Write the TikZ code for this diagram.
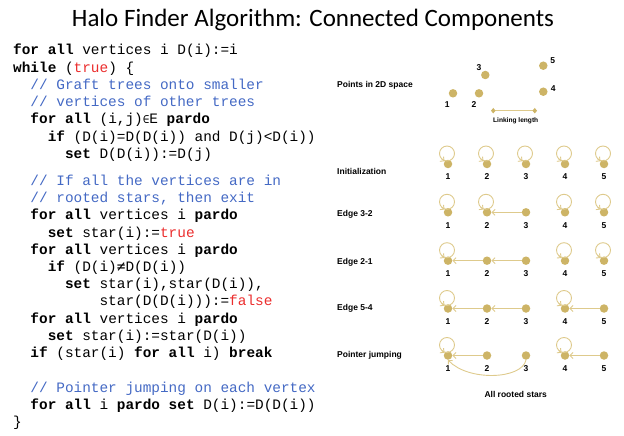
\documentclass[tikz,border=0pt]{standalone}
\usepackage{fontspec}
\setmainfont{Liberation Sans}
\setmonofont{Liberation Mono}
\newfontfamily\titlefont{Carlito}
\newfontfamily\symfont{DejaVu Sans Mono}
\usetikzlibrary{arrows.meta,calc}
\definecolor{cmtblue}{RGB}{68,105,196}
\definecolor{codered}{RGB}{235,45,45}
\definecolor{gold}{RGB}{205,180,102}
\definecolor{goldline}{RGB}{222,202,140}
\newcommand\kw[1]{\textbf{#1}}
\newcommand\cmt[1]{\textcolor{cmtblue}{#1}}
\newcommand\rd[1]{\textcolor{codered}{#1}}
\tikzset{
  codeline/.style={anchor=base west, inner sep=0pt, font=\ttfamily\fontsize{14.4}{17}\selectfont},
  rowlabel/.style={anchor=west, inner sep=0pt, font=\bfseries\fontsize{8.5}{10}\selectfont},
  numlabel/.style={inner sep=0pt, font=\bfseries\fontsize{8.5}{10}\selectfont},
  dot/.style={circle, fill=gold, inner sep=0pt, minimum size=8.5pt},
  lnk/.style={draw=goldline, line width=0.9pt},
  arr/.style={lnk, -{Straight Barb[length=3pt,width=6pt]}},
  dia/.style={lnk, {Diamond[length=4.5pt,width=5.5pt,color=gold,fill=gold]}-{Diamond[length=4.5pt,width=5.5pt,color=gold,fill=gold]}},
}
\newcommand\selfloop[1]{%
  \draw[lnk] ([shift={(-1,-10.5)}]#1.center) circle[radius=7.5];
  \draw[arr] ([shift={(-6.3,-5)}]#1.center) -- (#1);}
\begin{document}
\begin{tikzpicture}[x=1pt,y=-1pt]
\useasboundingbox (0,0) rectangle (624,436);
% title
\node[anchor=base, inner sep=0pt, font=\titlefont\fontsize{25}{28}\selectfont] (title) at (313,27) {Halo Finder Algorithm: Connected Components};
% code
\def\cw{8.64}
\node[codeline] (c1)  at (13,55)            {\kw{for all} vertices i D(i):=i};
\node[codeline] (c2)  at (13,72.2)          {\kw{while} (\rd{true}) \{};
\node[codeline] (c3)  at (13+2*\cw,89.4)    {\cmt{// Graft trees onto smaller}};
\node[codeline] (c4)  at (13+2*\cw,106.6)   {\cmt{// vertices of other trees}};
\node[codeline] (c5)  at (13+2*\cw,123.8)   {\kw{for all} (i,j){\symfont\fontsize{11}{12}\selectfont ∈}E \kw{pardo}};
\node[codeline] (c6)  at (13+4*\cw,141)     {\kw{if} (D(i)=D(D(i)) and D(j)<D(i))};
\node[codeline] (c7)  at (13+6*\cw,158.2)   {\kw{set} D(D(i)):=D(j)};
\node[codeline] (c8)  at (13+2*\cw,185.5)   {\cmt{// If all the vertices are in}};
\node[codeline] (c9)  at (13+2*\cw,202.7)   {\cmt{// rooted stars, then exit}};
\node[codeline] (c10) at (13+2*\cw,219.9)   {\kw{for all} vertices i \kw{pardo}};
\node[codeline] (c11) at (13+4*\cw,237.1)   {\kw{set} star(i):=\rd{true}};
\node[codeline] (c12) at (13+2*\cw,254.3)   {\kw{for all} vertices i \kw{pardo}};
\node[codeline] (c13) at (13+4*\cw,271.5)   {\kw{if} (D(i){\symfont ≠}D(D(i))};
\node[codeline] (c14) at (13+6*\cw,288.7)   {\kw{set} star(i),star(D(i)),};
\node[codeline] (c15) at (13+10*\cw,305.9)  {star(D(D(i))):=\rd{false}};
\node[codeline] (c16) at (13+2*\cw,323.1)   {\kw{for all} vertices i \kw{pardo}};
\node[codeline] (c17) at (13+4*\cw,340.3)   {\kw{set} star(i):=star(D(i))};
\node[codeline] (c18) at (13+2*\cw,357.5)   {\kw{if} (star(i) \kw{for all} i) \kw{break}};
\node[codeline] (c19) at (13+2*\cw,392.5)   {\cmt{// Pointer jumping on each vertex}};
\node[codeline] (c20) at (13+2*\cw,409.7)   {\kw{for all} i \kw{pardo} \kw{set} D(i):=D(D(i))};
\node[codeline] (c21) at (13,426.7)         {\}};
% right side: points in 2D space
\node[rowlabel] (lp) at (337,85) {Points in 2D space};
\node[dot] (p1) at (453,93.3) {};
\node[dot] (p2) at (479,93.3) {};
\node[dot] (p3) at (485.3,75) {};
\node[dot] (p4) at (543.3,91.7) {};
\node[dot] (p5) at (543.3,65.7) {};
\node[numlabel] (pl1) at (447.3,104.3) {1};
\node[numlabel] (pl2) at (474,104.3) {2};
\node[numlabel] (pl3) at (479,67.3) {3};
\node[numlabel] (pl4) at (553.3,88.3) {4};
\node[numlabel] (pl5) at (552.7,61) {5};
\coordinate (ll1) at (491,110.7);
\coordinate (ll2) at (537,110.7);
\draw[dia] (ll1) -- (ll2);
\node[inner sep=0pt, font=\bfseries\fontsize{6.6}{8}\selectfont] (llt) at (515.7,121) {Linking length};
% rows
\def\xa{448}\def\xb{487}\def\xc{526}\def\xd{565}\def\xe{604}
\newcommand\dotrow[2]{%
  \node[dot] (#1a) at (\xa,#2) {};
  \node[dot] (#1b) at (\xb,#2) {};
  \node[dot] (#1c) at (\xc,#2) {};
  \node[dot] (#1d) at (\xd,#2) {};
  \node[dot] (#1e) at (\xe,#2) {};
  \node[numlabel] (#1na) at (\xa,#2+13) {1};
  \node[numlabel] (#1nb) at (\xb,#2+13) {2};
  \node[numlabel] (#1nc) at (\xc,#2+13) {3};
  \node[numlabel] (#1nd) at (\xd,#2+13) {4};
  \node[numlabel] (#1ne) at (\xe,#2+13) {5};}
% Initialization
\node[rowlabel] (li) at (337,171) {Initialization};
\dotrow{i}{164}
\selfloop{ia}\selfloop{ib}\selfloop{ic}\selfloop{id}\selfloop{ie}
% Edge 3-2
\node[rowlabel] (le1) at (337,214.3) {Edge 3-2};
\dotrow{r}{212.3}
\selfloop{ra}\selfloop{rb}\selfloop{rd}\selfloop{re}
\draw[arr] (rc) -- (rb);
% Edge 2-1
\node[rowlabel] (le2) at (337,262.7) {Edge 2-1};
\dotrow{s}{260.7}
\selfloop{sa}\selfloop{sd}\selfloop{se}
\draw[arr] (sc) -- (sb);
\draw[arr] (sb) -- (sa);
% Edge 5-4
\node[rowlabel] (le3) at (337,308.5) {Edge 5-4};
\dotrow{t}{308.5}
\selfloop{ta}\selfloop{td}
\draw[arr] (tc) -- (tb);
\draw[arr] (tb) -- (ta);
\draw[arr] (te) -- (td);
% Pointer jumping
\node[rowlabel] (le4) at (337,355.5) {Pointer jumping};
\dotrow{u}{355.5}
\selfloop{ua}\selfloop{ud}
\draw[arr] (ub) -- (ua);
\draw[arr] (ue) -- (ud);
\draw[arr] (uc.south) .. controls ($(uc)+(-4,24)$) and ($(ua)+(20,26)$) .. (ua.south);
\node[inner sep=0pt, font=\bfseries\fontsize{8.5}{10}\selectfont] (ars) at (515.7,394) {All rooted stars};
\end{tikzpicture}
\end{document}
